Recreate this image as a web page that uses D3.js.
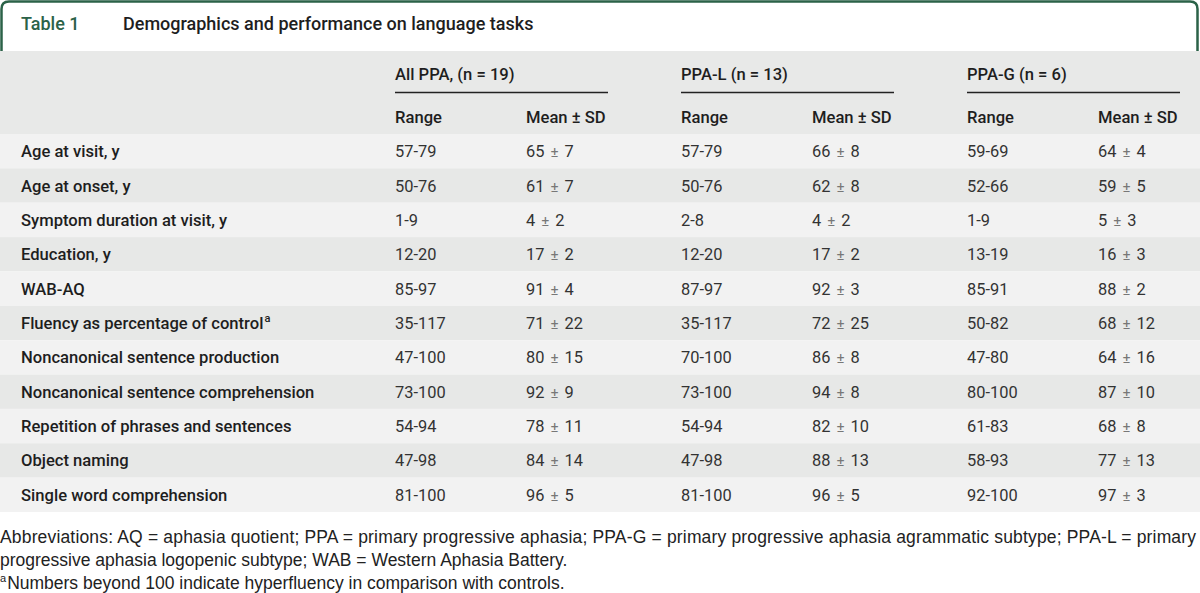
<!DOCTYPE html>
<html><head><meta charset="utf-8">
<script src="https://cdn.jsdelivr.net/npm/d3@7"></script>
<style>
html,body{margin:0;padding:0;background:#fff;}
svg{display:block;}
</style></head>
<body>
<svg id="c" width="1200" height="593"></svg>
<script>
const tableNumber = "Table 1";
const tableTitle = "Demographics and performance on language tasks";
const groups = ["All PPA, (n = 19)", "PPA-L (n = 13)", "PPA-G (n = 6)"];
const subHeaders = ["Range", "Mean ± SD"];
const rowLabels = [
  "Age at visit, y", "Age at onset, y", "Symptom duration at visit, y", "Education, y", "WAB-AQ",
  "Fluency as percentage of control", "Noncanonical sentence production",
  "Noncanonical sentence comprehension", "Repetition of phrases and sentences",
  "Object naming", "Single word comprehension"
];
const rowMarks = ["", "", "", "", "", "a", "", "", "", "", ""];
const allRange = ["57-79","50-76","1-9","12-20","85-97","35-117","47-100","73-100","54-94","47-98","81-100"];
const allMean  = ["65 ± 7","61 ± 7","4 ± 2","17 ± 2","91 ± 4","71 ± 22","80 ± 15","92 ± 9","78 ± 11","84 ± 14","96 ± 5"];
const lRange   = ["57-79","50-76","2-8","12-20","87-97","35-117","70-100","73-100","54-94","47-98","81-100"];
const lMean    = ["66 ± 8","62 ± 8","4 ± 2","17 ± 2","92 ± 3","72 ± 25","86 ± 8","94 ± 8","82 ± 10","88 ± 13","96 ± 5"];
const gRange   = ["59-69","52-66","1-9","13-19","85-91","50-82","47-80","80-100","61-83","58-93","92-100"];
const gMean    = ["64 ± 4","59 ± 5","5 ± 3","16 ± 3","88 ± 2","68 ± 12","64 ± 16","87 ± 10","68 ± 8","77 ± 13","97 ± 3"];
const footLines = [
  "Abbreviations: AQ = aphasia quotient; PPA = primary progressive aphasia; PPA-G = primary progressive aphasia agrammatic subtype; PPA-L = primary",
  "progressive aphasia logopenic subtype; WAB = Western Aphasia Battery."
];
const footNoteMark = "a";
const footNoteText = "Numbers beyond 100 indicate hyperfluency in comparison with controls.";

const svg = d3.select("#c");
const W = 1200;
const green = "#2b6248";
const font = "Roboto, 'Liberation Sans', Arial, sans-serif";
const txt = "#1e1e1e";
const boldSize = 16.6, dataSize = 16.4;

// title frame
svg.append("rect").attr("x",0).attr("y",0).attr("width",W).attr("height",51).attr("fill","#fff");
svg.append("path")
  .attr("d", `M1.5,51 L1.5,9 Q1.5,1.5 9,1.5 L1190,1.5 Q1197.5,1.5 1197.5,9 L1197.5,51`)
  .attr("fill","none").attr("stroke",green).attr("stroke-width",2.5);
svg.append("text").attr("x",21).attr("y",30).attr("font-family",font).attr("font-size",18)
  .attr("font-weight",500).attr("fill",green).text(tableNumber);
svg.append("text").attr("x",123).attr("y",30).attr("font-family",font).attr("font-size",18)
  .attr("font-weight",500).attr("fill",txt).text(tableTitle);

// header background
svg.append("rect").attr("x",0).attr("y",51).attr("width",W).attr("height",83).attr("fill","#e8e9e8");

const groupX = d3.scaleOrdinal().domain(groups).range([395, 681, 967]);
const groupW = 213;
const subOffset = d3.scaleOrdinal().domain(subHeaders).range([0, 131]);

groups.forEach((g,i)=>{
  const x = groupX(g);
  svg.append("text").attr("x",x).attr("y",80).attr("font-family",font).attr("font-size",boldSize)
    .attr("font-weight",500).attr("fill",txt).text(g);
  svg.append("line").attr("x1",x).attr("x2",x+groupW).attr("y1",92.5).attr("y2",92.5)
    .attr("stroke","#222").attr("stroke-width",1.4);
  subHeaders.forEach(s=>{
    svg.append("text").attr("x",x+subOffset(s)).attr("y",123).attr("font-family",font).attr("font-size",boldSize)
      .attr("font-weight",500).attr("fill",txt).text(s);
  });
});

// body rows
const y = d3.scaleBand().domain(d3.range(rowLabels.length)).range([134, 512]).padding(0);
const rows = svg.append("g").selectAll("g").data(rowLabels).join("g")
  .attr("transform",(d,i)=>`translate(0,${y(i)})`);
rows.append("rect").attr("x",0).attr("width",W).attr("height",y.bandwidth())
  .attr("fill",(d,i)=> i%2===0 ? "#f2f2f2" : "#e7e8e7");
const ty = y.bandwidth()/2 + 6;
const lbl = rows.append("text").attr("x",21).attr("y",ty).attr("font-family",font).attr("font-size",boldSize)
  .attr("font-weight",500).attr("fill",txt).text(d=>d);
lbl.filter((d,i)=>rowMarks[i]).append("tspan").attr("dy",-7).attr("dx",1).attr("font-size",11)
  .text(d=>rowMarks[rowLabels.indexOf(d)]);

const cols = [allRange, allMean, lRange, lMean, gRange, gMean];
cols.forEach((arr,ci)=>{
  const x = groupX(groups[Math.floor(ci/2)]) + subOffset(subHeaders[ci%2]);
  const t = rows.append("text").attr("x",x).attr("y",ty).attr("font-family",font).attr("font-size",dataSize)
    .attr("fill","#333");
  if (ci%2===0) {
    t.text((d,i)=>arr[i]);
  } else {
    t.each(function(d,i){
      const parts = arr[i].split(" ± ");
      const s = d3.select(this);
      s.append("tspan").text(parts[0]);
      s.append("tspan").attr("dx",6).attr("fill","#777").attr("font-size",15).text("±");
      s.append("tspan").attr("dx",6).text(parts[1]);
    });
  }
});

// footnotes
const ff = "'Liberation Sans', Arial, sans-serif";
const fsz = 17.5;
footLines.forEach((l,i)=>{
  const t = svg.append("text").attr("x",0).attr("y",543+i*23).attr("font-family",ff).attr("font-size",fsz)
    .attr("fill","#222").text(l);
  if (i===0) t.attr("textLength",1196).attr("lengthAdjust","spacing");
});
const fn = svg.append("text").attr("x",0).attr("y",589).attr("font-family",ff).attr("font-size",fsz).attr("fill","#222");
fn.append("tspan").attr("font-size",11).attr("dy",-7).text(footNoteMark);
fn.append("tspan").attr("dy",7).attr("dx",1).text(footNoteText);
</script>
</body></html>
